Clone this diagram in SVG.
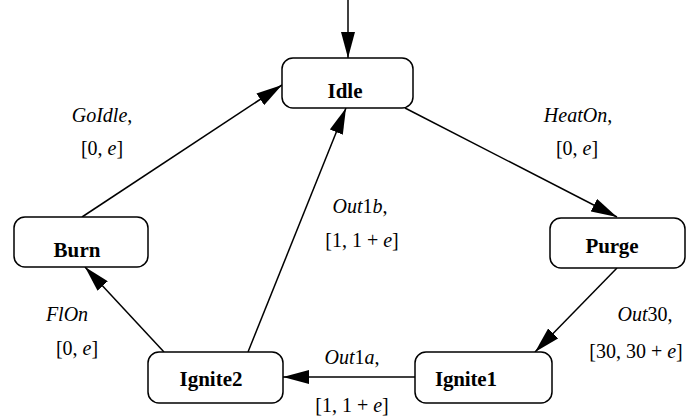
<svg xmlns="http://www.w3.org/2000/svg" width="689" height="420" viewBox="0 0 689 420">
<style>
.node rect{fill:#fff;stroke:#000;stroke-width:1.5}
.node text{font-family:"Liberation Serif","Times New Roman",serif;font-weight:bold;font-size:21px;text-anchor:middle}
.edges line{stroke:#000;stroke-width:1.5;marker-end:url(#ah)}
.lbl{font-family:"Liberation Serif","Times New Roman",serif;font-size:20px;text-anchor:middle}
.i{font-style:italic}
</style>
<defs>
<marker id="ah" markerUnits="userSpaceOnUse" viewBox="0 0 26 14" refX="26" refY="7" markerWidth="26" markerHeight="14" orient="auto">
<path d="M0,0 L26,7 L0,14 z" fill="#000"/>
</marker>
</defs>
<rect width="689" height="420" fill="#fff"/>
<g class="edges">
<line x1="348" y1="0" x2="348" y2="58"/>
<line x1="405" y1="108" x2="617" y2="217"/>
<line x1="617" y1="268" x2="535" y2="352"/>
<line x1="415" y1="377" x2="283" y2="377"/>
<line x1="164" y1="352" x2="85" y2="267"/>
<line x1="248" y1="352" x2="346" y2="108"/>
<line x1="82" y1="217" x2="282" y2="85"/>
</g>
<g id="Idle" class="node"><rect x="282" y="58" width="131" height="50" rx="11"/><text x="345" y="98" textLength="35">Idle</text></g>
<g id="Purge" class="node"><rect x="550" y="218" width="135" height="50" rx="11"/><text x="612" y="253" textLength="53">Purge</text></g>
<g id="Burn" class="node"><rect x="14" y="217" width="134" height="50" rx="11"/><text x="77" y="257" textLength="47">Burn</text></g>
<g id="Ignite2" class="node"><rect x="148" y="352" width="135" height="51" rx="11"/><text x="211" y="386" textLength="63">Ignite2</text></g>
<g id="Ignite1" class="node"><rect x="415" y="352" width="137" height="51" rx="11"/><text x="466" y="386" textLength="62">Ignite1</text></g>
<g class="labels">
<text class="lbl" x="102" y="122"><tspan class="i">GoIdle</tspan>,</text>
<text class="lbl" x="102" y="155">[0, <tspan class="i">e</tspan>]</text>
<text class="lbl" x="578" y="122"><tspan class="i">HeatOn</tspan>,</text>
<text class="lbl" x="577" y="155">[0, <tspan class="i">e</tspan>]</text>
<text class="lbl" x="360" y="213"><tspan class="i">Out</tspan>1<tspan class="i">b</tspan>,</text>
<text class="lbl" x="362" y="247">[1, 1 + <tspan class="i">e</tspan>]</text>
<text class="lbl" x="645" y="321"><tspan class="i">Out</tspan>30,</text>
<text class="lbl" x="636" y="358">[30, 30 + <tspan class="i">e</tspan>]</text>
<text class="lbl" x="352" y="364"><tspan class="i">Out</tspan>1<tspan class="i">a</tspan>,</text>
<text class="lbl" x="352" y="412">[1, 1 + <tspan class="i">e</tspan>]</text>
<text class="lbl" x="67" y="321"><tspan class="i">FlOn</tspan></text>
<text class="lbl" x="77" y="355">[0, <tspan class="i">e</tspan>]</text>
</g>
</svg>
